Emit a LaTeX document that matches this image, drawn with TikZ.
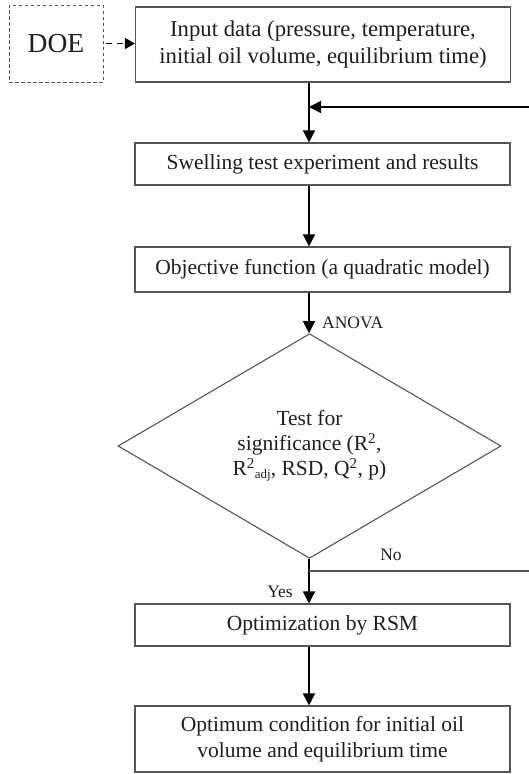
\documentclass[tikz,border=0pt]{standalone}
\usepackage{fontspec}
\setmainfont{Liberation Serif}
\usetikzlibrary{arrows.meta,shapes.geometric}
\definecolor{boxgray}{HTML}{555555}
\definecolor{txt}{HTML}{1E1E1E}
\begin{document}
\begin{tikzpicture}[x=1pt,y=-1pt,
  procbox/.style={draw=boxgray,line width=1.1pt,minimum width=375pt,inner sep=0pt,
    align=center,font=\fontsize{21.5}{26}\selectfont,text=txt},
  flow/.style={line width=1.5pt,-{Triangle[length=12pt,width=12pt]}},
  plainline/.style={line width=1.4pt},
  lbl/.style={font=\fontsize{17.5}{20}\selectfont,text=txt,inner sep=0pt}]
\useasboundingbox (0,0) rectangle (529,774);
% nodes
\node[draw=boxgray,dashed,dash pattern=on 3.5pt off 2.5pt,line width=1pt,minimum width=94pt,minimum height=77pt,inner sep=0pt,
  font=\fontsize{27.5}{30}\selectfont,text=txt] (doe) at (56,43.5) {DOE};
\node[procbox,minimum height=75pt,font=\fontsize{22.7}{26.5}\selectfont] (input) at (323,44.5) {Input data (pressure, temperature,\\initial oil volume, equilibrium time)};
\node[procbox,minimum height=42pt] (swell) at (322.5,164) {Swelling test experiment and results};
\node[procbox,minimum height=45pt] (obj) at (322.5,269.5) {Objective function (a quadratic model)};
\node[draw=boxgray,line width=1.1pt,diamond,minimum width=383pt,minimum height=192pt,inner sep=0pt,
  align=center,font=\fontsize{21.5}{25}\selectfont,text=txt] (dia) at (309.5,446)
  {Test for\\significance (R\textsuperscript{2},\\R\textsuperscript{2}\raisebox{-0.3ex}{\fontsize{13}{14}\selectfont adj}, RSD, Q\textsuperscript{2}, p)};
\node[procbox,minimum height=42pt] (opt) at (322.5,625) {Optimization by RSM};
\node[procbox,minimum height=66pt] (final) at (322.5,739) {Optimum condition for initial oil\\volume and equilibrium time};
% coordinates
\coordinate (join) at (309,107);
\coordinate (fbR) at (529,107);
\coordinate (nojoin) at (309,571);
\coordinate (noR) at (529,571);
% connectors
\draw[line width=1.4pt,dash pattern=on 6pt off 5pt,-{Triangle[length=10pt,width=11pt]}] ([xshift=2pt]doe.east) -- (input.west |- doe.east);
\draw[plainline] (input.south -| join) -- (join);
\draw[flow] (join) -- (swell.north -| join);
\draw[flow] (fbR) -- (join);
\draw[flow] (swell.south -| join) -- (obj.north -| join);
\draw[flow] (obj.south -| join) -- (dia.north -| join);
\node[lbl,anchor=west] at (322,323) {ANOVA};
\draw[plainline] (dia.south -| join) -- (nojoin);
\draw[flow] (nojoin) -- (opt.north -| join);
\draw[plainline,color=boxgray] (nojoin) -- (noR);
\node[lbl] at (391,555) {No};
\node[lbl] at (280,592) {Yes};
\draw[flow] (opt.south -| join) -- (final.north -| join);
\end{tikzpicture}
\end{document}
